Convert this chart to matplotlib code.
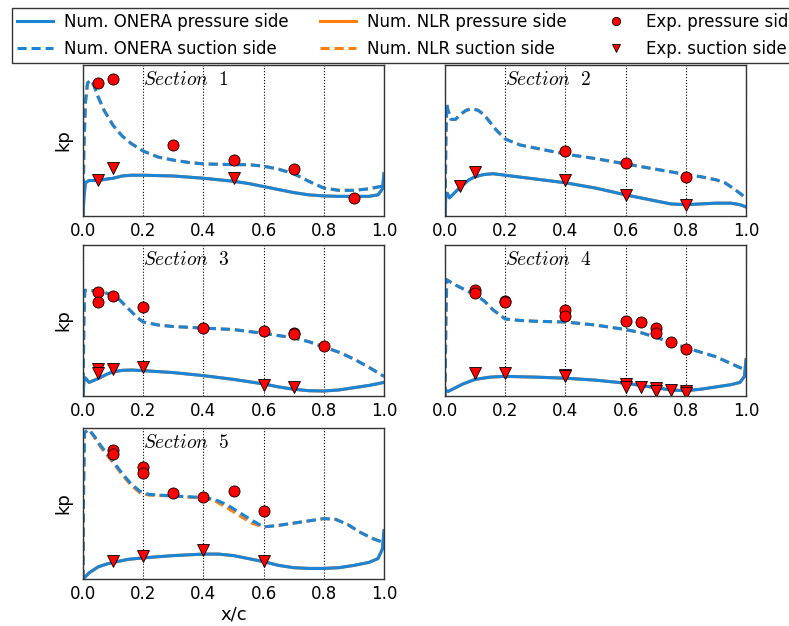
import matplotlib
matplotlib.use('Agg')
import matplotlib.pyplot as plt

plt.rcParams['mathtext.fontset'] = 'cm'
plt.rcParams['font.family'] = 'DejaVu Sans'

blue = '#1a85d6'
orange = '#ff7f0e'

# section 1
s1_x_suc = [0.0, 0.003, 0.008, 0.015, 0.025, 0.035, 0.05, 0.07, 0.1, 0.13, 0.16, 0.2, 0.25, 0.3, 0.35, 0.4, 0.5, 0.55, 0.6, 0.65, 0.7, 0.75, 0.8, 0.85, 0.9, 0.95, 1.0]
s1_y_suc = [0.0, 0.45, 0.75, 0.88, 0.9, 0.87, 0.79, 0.7, 0.6, 0.53, 0.48, 0.43, 0.39, 0.37, 0.355, 0.345, 0.34, 0.34, 0.33, 0.31, 0.28, 0.23, 0.185, 0.17, 0.17, 0.18, 0.2]
s1_x_pre = [0.0, 0.003, 0.008, 0.02, 0.05, 0.08, 0.1, 0.13, 0.16, 0.2, 0.3, 0.4, 0.5, 0.55, 0.6, 0.65, 0.7, 0.75, 0.8, 0.85, 0.9, 0.95, 0.98, 0.995, 1.0]
s1_y_pre = [0.0, 0.12, 0.22, 0.235, 0.235, 0.245, 0.25, 0.265, 0.27, 0.27, 0.265, 0.25, 0.23, 0.215, 0.195, 0.175, 0.155, 0.14, 0.133, 0.13, 0.13, 0.13, 0.14, 0.18, 0.28]
s1_x_ep = [0.05, 0.1, 0.3, 0.5, 0.7, 0.9]
s1_y_ep = [0.88, 0.91, 0.47, 0.37, 0.31, 0.12]
s1_x_es = [0.05, 0.1, 0.5]
s1_y_es = [0.24, 0.32, 0.25]

# section 2
s2_x_suc = [0.0, 0.003, 0.006, 0.01, 0.02, 0.035, 0.05, 0.07, 0.09, 0.11, 0.13, 0.15, 0.17, 0.2, 0.25, 0.3, 0.4, 0.5, 0.6, 0.7, 0.8, 0.85, 0.9, 0.93, 0.96, 1.0]
s2_y_suc = [0.0, 0.5, 0.74, 0.7, 0.64, 0.64, 0.67, 0.7, 0.71, 0.7, 0.67, 0.62, 0.57, 0.51, 0.47, 0.45, 0.41, 0.38, 0.345, 0.31, 0.275, 0.26, 0.24, 0.22, 0.18, 0.12]
s2_x_pre = [0.0, 0.003, 0.008, 0.015, 0.03, 0.05, 0.08, 0.1, 0.13, 0.16, 0.2, 0.3, 0.4, 0.5, 0.6, 0.65, 0.7, 0.75, 0.8, 0.85, 0.9, 0.95, 0.98, 1.0]
s2_y_pre = [0.0, 0.15, 0.15, 0.12, 0.15, 0.19, 0.24, 0.26, 0.275, 0.28, 0.27, 0.245, 0.22, 0.185, 0.14, 0.12, 0.1, 0.08, 0.075, 0.08, 0.085, 0.085, 0.075, 0.06]
s2_x_ep = [0.4, 0.6, 0.8]
s2_y_ep = [0.43, 0.35, 0.26]
s2_x_es = [0.05, 0.1, 0.4, 0.6, 0.8]
s2_y_es = [0.20, 0.29, 0.24, 0.14, 0.07]

# section 3
s3_x_suc = [0.0, 0.003, 0.006, 0.02, 0.05, 0.08, 0.1, 0.12, 0.15, 0.18, 0.2, 0.25, 0.3, 0.4, 0.5, 0.6, 0.7, 0.75, 0.8, 0.85, 0.9, 0.95, 1.0]
s3_y_suc = [0.0, 0.5, 0.7, 0.7, 0.695, 0.68, 0.665, 0.64, 0.58, 0.52, 0.49, 0.47, 0.46, 0.45, 0.44, 0.415, 0.385, 0.36, 0.325, 0.29, 0.245, 0.19, 0.13]
s3_x_pre = [0.0, 0.003, 0.008, 0.02, 0.05, 0.08, 0.1, 0.13, 0.16, 0.2, 0.3, 0.4, 0.5, 0.55, 0.6, 0.65, 0.7, 0.75, 0.8, 0.85, 0.9, 0.95, 1.0]
s3_y_pre = [0.0, 0.1, 0.12, 0.09, 0.115, 0.145, 0.16, 0.17, 0.172, 0.168, 0.155, 0.135, 0.11, 0.095, 0.08, 0.06, 0.045, 0.035, 0.033, 0.04, 0.055, 0.07, 0.09]
s3_x_ep = [0.05, 0.05, 0.1, 0.2, 0.4, 0.6, 0.7, 0.7, 0.8]
s3_y_ep = [0.69, 0.62, 0.66, 0.59, 0.45, 0.43, 0.42, 0.41, 0.33]
s3_x_es = [0.05, 0.05, 0.1, 0.2, 0.6, 0.7]
s3_y_es = [0.18, 0.15, 0.18, 0.19, 0.07, 0.06]

# section 4
s4_x_suc = [0.0, 0.003, 0.006, 0.03, 0.06, 0.1, 0.13, 0.16, 0.2, 0.25, 0.3, 0.4, 0.5, 0.6, 0.65, 0.7, 0.75, 0.8, 0.85, 0.9, 0.95, 1.0]
s4_y_suc = [0.0, 0.5, 0.77, 0.74, 0.71, 0.67, 0.63, 0.57, 0.51, 0.5, 0.495, 0.49, 0.47, 0.44, 0.42, 0.39, 0.355, 0.32, 0.29, 0.26, 0.215, 0.17]
s4_x_pre = [0.0, 0.01, 0.03, 0.06, 0.1, 0.15, 0.2, 0.3, 0.4, 0.5, 0.6, 0.65, 0.7, 0.75, 0.8, 0.85, 0.9, 0.95, 0.98, 0.995, 1.0]
s4_y_pre = [0.04, 0.03, 0.05, 0.08, 0.11, 0.125, 0.13, 0.125, 0.118, 0.105, 0.085, 0.07, 0.055, 0.04, 0.035, 0.045, 0.06, 0.075, 0.09, 0.13, 0.24]
s4_x_ep = [0.1, 0.1, 0.2, 0.2, 0.4, 0.4, 0.6, 0.65, 0.7, 0.7, 0.75, 0.8]
s4_y_ep = [0.70, 0.68, 0.63, 0.62, 0.57, 0.53, 0.50, 0.49, 0.45, 0.42, 0.36, 0.31]
s4_x_es = [0.1, 0.2, 0.4, 0.4, 0.6, 0.6, 0.65, 0.7, 0.7, 0.75, 0.8, 0.8]
s4_y_es = [0.15, 0.15, 0.14, 0.13, 0.08, 0.06, 0.06, 0.05, 0.03, 0.04, 0.03, 0.02]

# section 5
s5_x_suc = [0.0, 0.002, 0.005, 0.02, 0.04, 0.06, 0.1, 0.13, 0.16, 0.19, 0.22, 0.3, 0.4, 0.44, 0.48, 0.52, 0.56, 0.6, 0.65, 0.7, 0.75, 0.8, 0.84, 0.88, 0.92, 0.96, 1.0]
s5_y_suc = [0.0, 0.6, 0.97, 0.99, 0.94, 0.88, 0.78, 0.7, 0.63, 0.58, 0.56, 0.55, 0.54, 0.525, 0.49, 0.44, 0.39, 0.345, 0.355, 0.37, 0.385, 0.4, 0.395, 0.36, 0.31, 0.27, 0.24]
s5_x_suc_nlr = [0.0, 0.002, 0.005, 0.02, 0.04, 0.06, 0.1, 0.13, 0.16, 0.19, 0.22, 0.3, 0.4, 0.44, 0.48, 0.52, 0.56, 0.6, 0.65, 0.7, 0.75, 0.8, 0.84, 0.88, 0.92, 0.96, 1.0]
s5_y_suc_nlr = [0.0, 0.6, 0.97, 0.99, 0.93, 0.87, 0.77, 0.69, 0.62, 0.57, 0.555, 0.55, 0.535, 0.515, 0.47, 0.42, 0.37, 0.345, 0.355, 0.37, 0.385, 0.4, 0.395, 0.36, 0.31, 0.27, 0.24]
s5_x_pre = [0.0, 0.02, 0.05, 0.08, 0.1, 0.15, 0.2, 0.3, 0.4, 0.45, 0.5, 0.55, 0.6, 0.65, 0.7, 0.75, 0.8, 0.85, 0.9, 0.95, 0.98, 0.995, 1.0]
s5_y_pre = [0.0, 0.04, 0.08, 0.1, 0.11, 0.13, 0.14, 0.155, 0.165, 0.165, 0.155, 0.135, 0.115, 0.09, 0.075, 0.07, 0.07, 0.075, 0.09, 0.11, 0.135, 0.2, 0.32]
s5_x_ep = [0.1, 0.1, 0.2, 0.2, 0.3, 0.4, 0.5, 0.6]
s5_y_ep = [0.855, 0.83, 0.74, 0.70, 0.57, 0.545, 0.58, 0.45]
s5_x_es = [0.1, 0.2, 0.4, 0.6]
s5_y_es = [0.12, 0.15, 0.19, 0.12]

sections = [
    (s1_x_suc, s1_y_suc, s1_x_suc, s1_y_suc, s1_x_pre, s1_y_pre, s1_x_ep, s1_y_ep, s1_x_es, s1_y_es),
    (s2_x_suc, s2_y_suc, s2_x_suc, s2_y_suc, s2_x_pre, s2_y_pre, s2_x_ep, s2_y_ep, s2_x_es, s2_y_es),
    (s3_x_suc, s3_y_suc, s3_x_suc, s3_y_suc, s3_x_pre, s3_y_pre, s3_x_ep, s3_y_ep, s3_x_es, s3_y_es),
    (s4_x_suc, s4_y_suc, s4_x_suc, s4_y_suc, s4_x_pre, s4_y_pre, s4_x_ep, s4_y_ep, s4_x_es, s4_y_es),
    (s5_x_suc, s5_y_suc, s5_x_suc_nlr, s5_y_suc_nlr, s5_x_pre, s5_y_pre, s5_x_ep, s5_y_ep, s5_x_es, s5_y_es),
]

fig = plt.figure(figsize=(7.89, 6.26), dpi=100)
W, H = 789.0, 626.0
lefts = [83, 445]
tops = [65, 245, 428]
pw, ph = 301, 151

axes = []
for i, sec in enumerate(sections):
    r, c = i // 2, i % 2
    ax = fig.add_axes([lefts[c] / W, 1 - (tops[r] + ph) / H, pw / W, ph / H])
    xs, ys, xn, yn, xp, yp, xe, ye, xt, yt = sec
    l1, = ax.plot(xp, yp, color=orange, lw=2.2)
    l2, = ax.plot(xn, yn, color=orange, lw=2.2, ls='--', dashes=(3, 1.6))
    l3, = ax.plot(xp, yp, color=blue, lw=2.2)
    l4, = ax.plot(xs, ys, color=blue, lw=2.2, ls='--', dashes=(3, 1.6))
    m1, = ax.plot(xe, ye, 'o', color='red', mec='k', mew=0.6, ms=8, ls='none')
    m2, = ax.plot(xt, yt, 'v', color='red', mec='k', mew=0.6, ms=8, ls='none')
    ax.set_xlim(0, 1)
    ax.set_ylim(0, 1)
    ax.set_yticks([])
    ax.set_xticks([0.0, 0.2, 0.4, 0.6, 0.8, 1.0])
    ax.set_xticklabels(['0.0', '0.2', '0.4', '0.6', '0.8', '1.0'])
    ax.tick_params(axis='x', labelsize=12, length=0, pad=4)
    ax.xaxis.grid(True, linestyle=':', color='k', lw=0.8)
    for sp in ax.spines.values():
        sp.set_color('#333333')
        sp.set_linewidth(1.0)
    ax.text(0.2, 0.97, r'$\mathit{Section}\ \ %d$' % (i + 1), transform=ax.transAxes,
            ha='left', va='top', fontsize=14)
    if c == 0:
        ax.set_ylabel('kp', fontsize=13, labelpad=8)
    axes.append(ax)

axes[4].set_xlabel('x/c', fontsize=13, labelpad=2)

handles = [l3, l4, l1, l2, m1, m2]
labels = ['Num. ONERA pressure side', 'Num. ONERA suction side',
          'Num. NLR pressure side', 'Num. NLR suction side',
          'Exp. pressure side', 'Exp. suction side']
leg = fig.legend(handles, labels, loc='upper left', bbox_to_anchor=(12 / W, 1 - 8 / H),
                 ncol=3, fontsize=12, frameon=True, fancybox=False, handlelength=2.15,
                 handletextpad=0.7, columnspacing=1.85, borderpad=0.3, labelspacing=0.55,
                 borderaxespad=0, numpoints=1, markerscale=0.75)
leg.get_frame().set_edgecolor('k')
leg.get_frame().set_linewidth(1.0)

fig.savefig('out.png', dpi=100)
